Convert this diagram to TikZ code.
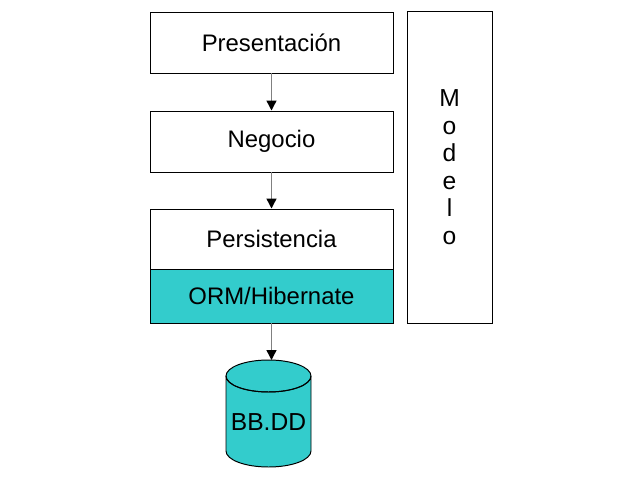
\documentclass[tikz,border=0pt]{standalone}
\usepackage{fontspec}
\setmainfont{Liberation Sans}
\usepackage{tikz}
\usetikzlibrary{arrows.meta}
\definecolor{capa}{HTML}{33CCCC}
\tikzset{
	capa/.style 2 args={draw,line width=0.7pt,minimum width=6.075cm,minimum height=#1,fill=#2,font=\fontsize{17}{20}\selectfont,inner sep=0pt},
	flecha/.style={draw=gray,line width=1pt,-{Triangle[length=7pt,width=7pt,black]}}
}

\begin{document}
\begin{tikzpicture}
	\useasboundingbox (0,0) rectangle (16,12);
	\node [capa={1.525cm}{white}] (pres) at (6.7875,10.9375) {Presentación};
	\node [capa={1.525cm}{white}] (neg) at (6.7875,8.4625) {Negocio};
	\node [capa={1.5cm}{white}] (pers) at (6.7875,6.025) {Persistencia};
	\node [capa={1.35cm}{capa}] (orm) at (6.7875,4.6) {ORM/Hibernate};
	\node [draw,line width=0.7pt,minimum width=2.125cm,minimum height=7.8cm,align=center,font=\fontsize{17.5}{19.6}\selectfont] (mod) at (11.2375,7.825) {M\\o\\d\\e\\l\\o};
	
	% base de datos
	\draw [fill=capa,line width=0.7pt] (5.65,2.6) -- (5.65,0.725) arc (180:360:1.0625 and 0.4) -- (7.775,2.6) arc (0:360:1.0625 and 0.4);
	\draw [line width=0.7pt] (5.65,2.6) arc (180:360:1.0625 and 0.4);
	\node [font=\fontsize{17.5}{20}\selectfont] (bd) at (6.7125,1.45) {BB.DD};
	\coordinate (bdtop) at (6.8,3.0);
	
	\draw [flecha] (pres) -- (neg);
	\draw [flecha] (neg) -- (pers);
	\draw [flecha] (orm.south) -- (orm.south |- bdtop);
\end{tikzpicture}
\end{document}
